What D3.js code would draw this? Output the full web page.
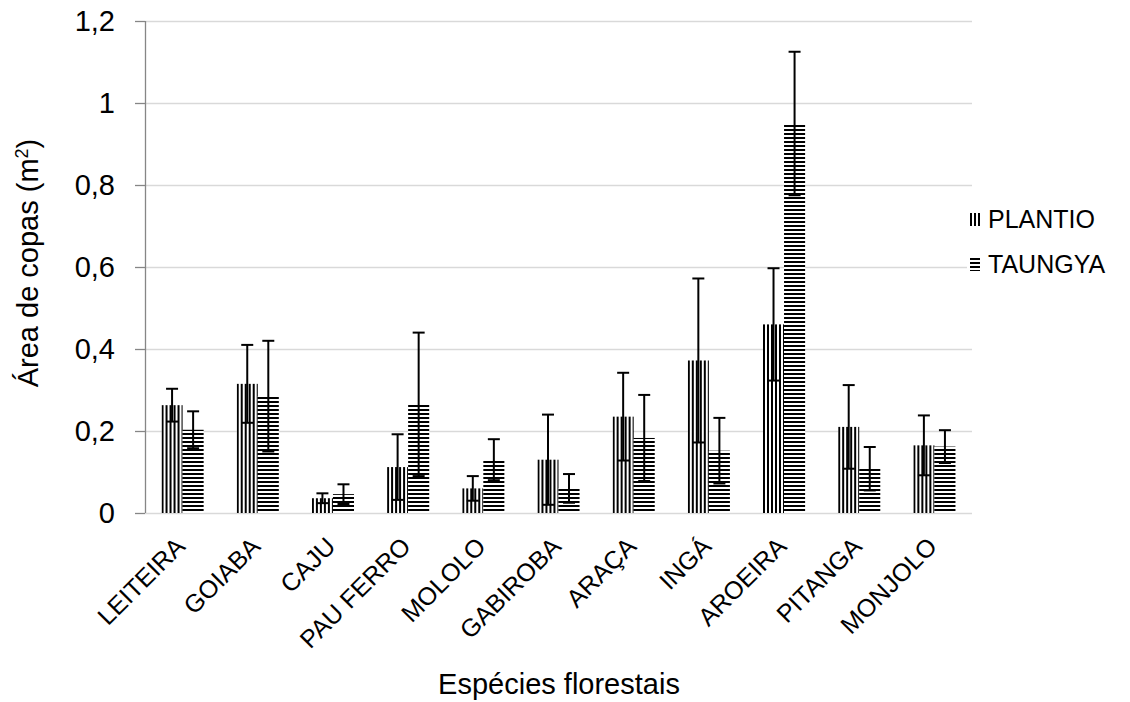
<!DOCTYPE html>
<html>
<head>
<meta charset="utf-8">
<script src="https://cdn.jsdelivr.net/npm/d3@7"></script>
<style>
body { margin: 0; background: #fff; }
text { font-family: "Liberation Sans", Arial, sans-serif; fill: #000; }
</style>
</head>
<body>
<svg id="chart"></svg>
<script>
var species = ["LEITEIRA", "GOIABA", "CAJU", "PAU FERRO", "MOLOLO", "GABIROBA", "ARAÇA", "INGÁ", "AROEIRA", "PITANGA", "MONJOLO"];
var seriesNames = ["PLANTIO", "TAUNGYA"];
var plantio = [0.263, 0.315, 0.036, 0.112, 0.06, 0.13, 0.235, 0.372, 0.46, 0.21, 0.165];
var plantioErr = [0.04, 0.095, 0.012, 0.08, 0.03, 0.11, 0.107, 0.2, 0.137, 0.102, 0.073];
var taungya = [0.203, 0.285, 0.046, 0.265, 0.13, 0.06, 0.183, 0.152, 0.95, 0.108, 0.162];
var taungyaErr = [0.045, 0.135, 0.024, 0.175, 0.05, 0.035, 0.105, 0.08, 0.175, 0.053, 0.04];
var yTicks = [0, 0.2, 0.4, 0.6, 0.8, 1, 1.2];

var svg = d3.select("#chart").attr("width", 1130).attr("height", 702),
    margin = {top: 21, right: 158, bottom: 189, left: 145},
    width = 1130 - margin.left - margin.right,
    height = 702 - margin.top - margin.bottom;

var defs = svg.append("defs");

var pv = defs.append("pattern")
	.attr("id", "vert")
	.attr("patternUnits", "userSpaceOnUse")
	.attr("width", 4).attr("height", 4);
pv.append("rect").attr("width", 4).attr("height", 4).attr("fill", "#fff");
pv.append("rect").attr("width", 2).attr("height", 4).attr("fill", "#000");

var ph = defs.append("pattern")
	.attr("id", "horiz")
	.attr("patternUnits", "userSpaceOnUse")
	.attr("width", 4).attr("height", 4);
ph.append("rect").attr("width", 4).attr("height", 4).attr("fill", "#fff");
ph.append("rect").attr("width", 4).attr("height", 2).attr("fill", "#000");

var fills = ["url(#vert)", "url(#horiz)"];

var data = species.map(function(s, i) {
	return {
		name: s,
		vals: [
			{key: 0, v: plantio[i], e: plantioErr[i]},
			{key: 1, v: taungya[i], e: taungyaErr[i]}
		]
	};
});

var x0 = d3.scaleBand().domain(species).range([0, width]).paddingInner(0.44).paddingOuter(0.22);
var x1 = d3.scaleBand().domain([0, 1]).range([0, x0.bandwidth()]);
var y = d3.scaleLinear().domain([0, 1.2]).range([height, 0]);

var g = svg.append("g").attr("transform", "translate(" + margin.left + "," + margin.top + ")");

// grid
g.selectAll(".grid")
	.data(yTicks)
	.enter()
	.append("line")
		.attr("x1", 0).attr("x2", width)
		.attr("y1", function(d){ return Math.round(y(d)) + 0.5; })
		.attr("y2", function(d){ return Math.round(y(d)) + 0.5; })
		.attr("stroke", "#d9d9d9")
		.attr("stroke-width", 1.3);

// left axis
var yAxis = g.append("g")
	.call(d3.axisLeft(y).tickValues(yTicks).tickSize(10).tickPadding(20)
		.tickFormat(function(d){ return String(d).replace(".", ","); }));
yAxis.select(".domain").attr("stroke", "#868686").attr("stroke-width", 1.3).attr("d", "M0.5," + height + "V0");
yAxis.selectAll(".tick line").attr("stroke", "#868686").attr("stroke-width", 1.3);
yAxis.selectAll("text").style("font-size", "29px").attr("fill", "#000");

// bars
var groups = g.selectAll(".grp")
	.data(data)
	.enter()
	.append("g")
		.attr("transform", function(d){ return "translate(" + x0(d.name) + ",0)"; });

groups.selectAll("rect")
	.data(function(d){ return d.vals; })
	.enter()
	.append("rect")
		.attr("x", function(d){ return x1(d.key); })
		.attr("width", x1.bandwidth())
		.attr("y", function(d){ return y(d.v); })
		.attr("height", function(d){ return height - y(d.v); })
		.attr("fill", function(d){ return fills[d.key]; });

// error bars
var err = groups.selectAll(".err")
	.data(function(d){ return d.vals; })
	.enter()
	.append("g")
		.attr("stroke", "#000")
		.attr("stroke-width", 2);

err.append("line")
	.attr("x1", function(d){ return x1(d.key) + x1.bandwidth() / 2; })
	.attr("x2", function(d){ return x1(d.key) + x1.bandwidth() / 2; })
	.attr("y1", function(d){ return y(d.v + d.e); })
	.attr("y2", function(d){ return y(d.v - d.e); });

err.selectAll(".cap")
	.data(function(d){ return [d.v + d.e, d.v - d.e].map(function(c){ return {key: d.key, c: c}; }); })
	.enter()
	.append("line")
		.attr("x1", function(d){ return x1(d.key) + x1.bandwidth() / 2 - 6; })
		.attr("x2", function(d){ return x1(d.key) + x1.bandwidth() / 2 + 6; })
		.attr("y1", function(d){ return y(d.c); })
		.attr("y2", function(d){ return y(d.c); });

// category labels
g.selectAll(".cat")
	.data(species)
	.enter()
	.append("text")
		.attr("text-anchor", "end")
		.style("font-size", "25px")
		.attr("transform", function(d){
			return "translate(" + (x0(d) + x0.bandwidth() / 2 + 4) + "," + (height + 35) + ") rotate(-45)";
		})
		.text(function(d){ return d; });

// axis titles
svg.append("text")
	.attr("text-anchor", "middle")
	.style("font-size", "29px")
	.attr("x", 559).attr("y", 694)
	.text("Espécies florestais");

var yt = svg.append("text")
	.attr("text-anchor", "middle")
	.style("font-size", "29px")
	.attr("transform", "translate(38," + (margin.top + height / 2 - 4) + ") rotate(-90)");
yt.append("tspan").text("Área de copas (m");
yt.append("tspan").attr("dy", -10).style("font-size", "18px").text("2");
yt.append("tspan").attr("dy", 10).text(")");

// legend
svg.append("rect")
	.attr("x", 967).attr("y", 196)
	.attr("width", 160).attr("height", 92)
	.attr("fill", "#fff");

var legend = svg.selectAll(".legend")
	.data(seriesNames)
	.enter()
	.append("g")
		.attr("transform", function(d, i){ return "translate(970," + (213 + i * 45) + ")"; });

legend.append("rect")
	.attr("width", 10).attr("height", 13)
	.attr("fill", function(d, i){ return fills[i]; });

legend.append("text")
	.attr("x", 18).attr("y", 15)
	.style("font-size", "25px")
	.text(function(d){ return d; });
</script>
</body>
</html>
